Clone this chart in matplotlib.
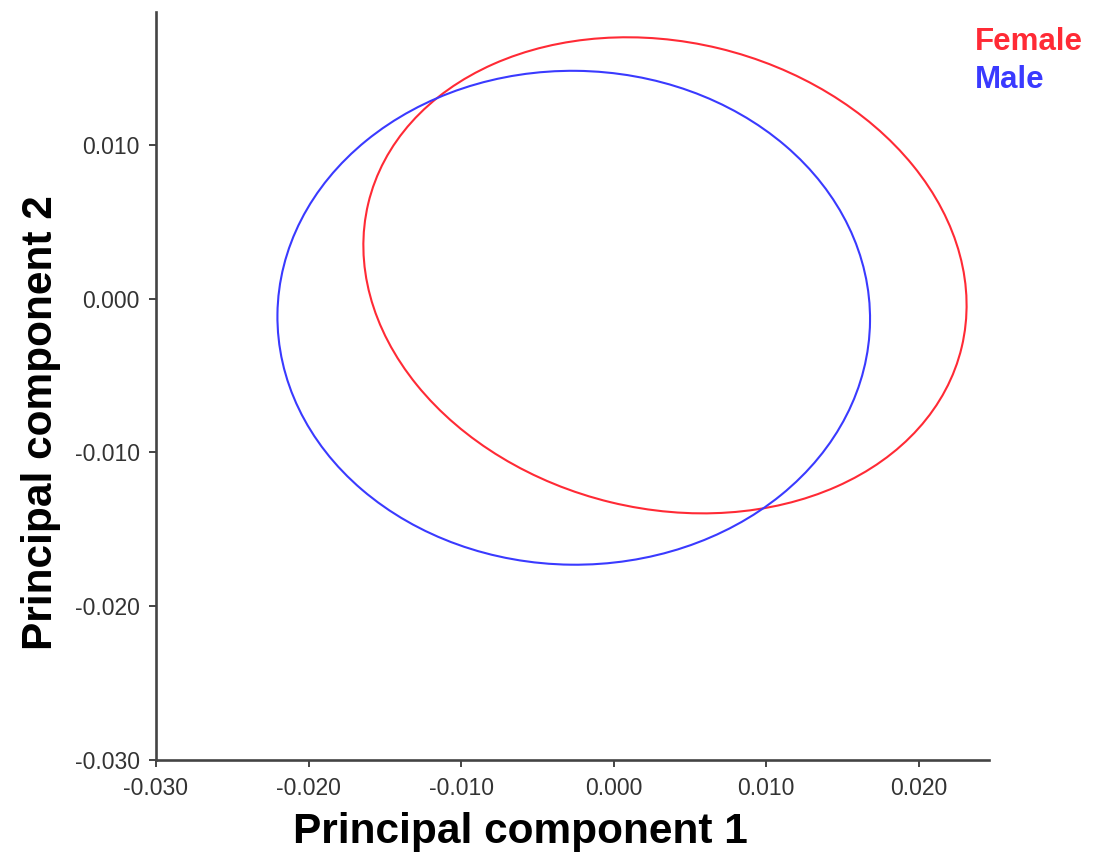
import matplotlib.pyplot as plt
from matplotlib.patches import Ellipse

# ellipse parameters (data units)
groups = ["Female", "Male"]
colors = ["#ff2a35", "#3a3aff"]
center_x = [0.00336, -0.00262]
center_y = [0.00152, -0.00124]
semi_major = [0.0200, 0.01942]
semi_minor = [0.01518, 0.01606]
angles = [-13.5, -0.7]

xticks = [-0.030, -0.020, -0.010, 0.000, 0.010, 0.020]
yticks = [-0.030, -0.020, -0.010, 0.000, 0.010]

plt.rcParams['font.family'] = ['Liberation Sans', 'DejaVu Sans']

fig = plt.figure(figsize=(10.93, 8.52), dpi=100)
ax = fig.add_axes([0.1427, 0.108, 0.7622, 0.878])

for g, c, cx, cy, a, b, ang in zip(groups, colors, center_x, center_y,
                                    semi_major, semi_minor, angles):
    ax.add_patch(Ellipse((cx, cy), 2 * a, 2 * b, angle=ang,
                         fill=False, edgecolor=c, linewidth=1.5))

ax.set_xlim(-0.030, 0.0246)
ax.set_ylim(-0.030, 0.01865)
ax.set_xticks(xticks)
ax.set_yticks(yticks)
ax.set_xticklabels([f"{v:.3f}" for v in xticks])
ax.set_yticklabels([f"{v:.3f}" for v in yticks])
ax.tick_params(direction='out', length=5, width=1.4, colors='#444444',
               labelsize=16.5, labelcolor='#333333')
ax.tick_params(axis='x', pad=7)
ax.tick_params(axis='y', pad=6.5)

for s in ['top', 'right']:
    ax.spines[s].set_visible(False)
for s in ['left', 'bottom']:
    ax.spines[s].set_color('#444444')
    ax.spines[s].set_linewidth(1.9)

ax.set_xlabel("Principal component 1", fontsize=30.5, fontweight='bold')
ax.xaxis.label.set_va('baseline')
ax.xaxis.set_label_coords(0.438, -0.111)
ax.set_ylabel("Principal component 2", fontsize=30.5, fontweight='bold')
ax.yaxis.set_label_coords(-0.114, 0.451)

# legend as coloured text in the top right corner
for i, (g, c) in enumerate(zip(groups, colors)):
    fig.text(975 / 1093, 1 - (42 + 38 * i) / 852, g, color=c, fontsize=22.5,
             fontweight='bold', ha='left', va='center')

fig.savefig("out.png", dpi=100)
